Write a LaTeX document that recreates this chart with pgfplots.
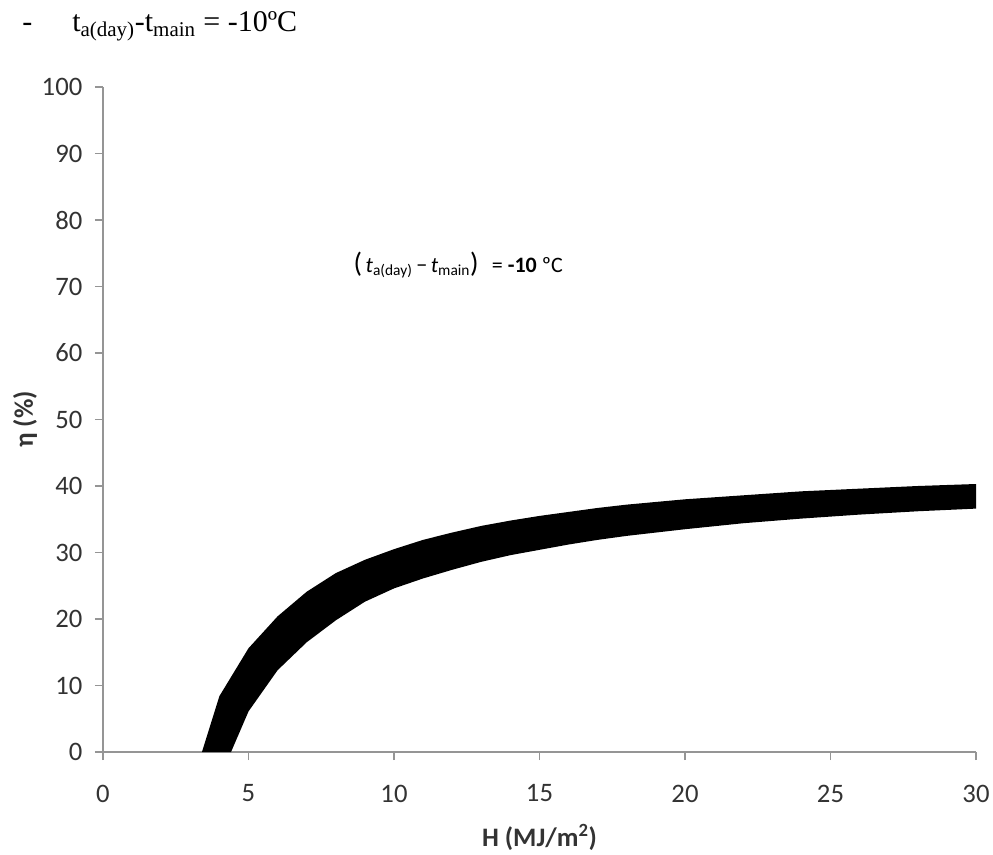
\documentclass[border=0pt]{standalone}
\usepackage{pgfplots}
\pgfplotsset{compat=1.18}
\usepgfplotslibrary{fillbetween}
\usepackage{fontspec}
\setmainfont{Carlito}
\newfontfamily\timesfont{Liberation Serif}
\definecolor{axgray}{HTML}{959595}
\definecolor{txtgray}{HTML}{333333}
\pgfplotstableread{
x y
3.4 0
4 8.4
5 15.6
6 20.4
7 24.1
8 26.9
9 28.9
10 30.5
11 31.9
12 33.0
13 34.0
14 34.8
15 35.5
16 36.1
17 36.7
18 37.2
19 37.6
20 38.0
22 38.6
24 39.2
26 39.6
28 40.0
30 40.3
}\uppertab
\pgfplotstableread{
x y
4.4 0
5 6.1
6 12.3
7 16.5
8 19.8
9 22.6
10 24.6
11 26.1
12 27.4
13 28.6
14 29.6
15 30.4
16 31.2
17 31.9
18 32.5
19 33.0
20 33.5
22 34.4
24 35.1
26 35.7
28 36.2
30 36.6
}\lowertab
\begin{document}
\begin{tikzpicture}
\begin{axis}[
  at={(0pt,0pt)}, anchor=origin,
  scale only axis,
  width=654.75pt, height=498.75pt,
  xmin=0, xmax=30, ymin=0, ymax=100,
  xtick={0,5,...,30}, ytick={0,10,...,100},
  axis x line=bottom, axis y line=left,
  axis line style={axgray, line width=0.9pt, -},
  tick style={axgray, line width=0.9pt},
  major tick length=6pt,
  tick align=outside,
  ticklabel style={font=\fontsize{20}{22}\selectfont, text=txtgray},
  /pgf/number format/assume math mode=true,
  xticklabel style={yshift=-15pt},
  yticklabel style={xshift=-6pt},
  clip=false,
  xlabel={\textbf{H (MJ/m\textsuperscript{2})}},
  ylabel={\textbf{η (\%)}},
  every axis x label/.style={at={(axis description cs:0.5,-0.1278)}, anchor=center,
     font=\fontsize{20}{22}\selectfont, text=txtgray},
  every axis y label/.style={at={(axis description cs:-0.0893,0.5)}, anchor=center, rotate=90,
     font=\fontsize{20}{22}\selectfont, text=txtgray},
]
\addplot[name path=U, draw=none] table {\uppertab};
\addplot[name path=L, draw=none] table {\lowertab};
\addplot[black] fill between[of=U and L];
\node[anchor=west, inner sep=0pt, font=\fontsize{16.5}{18}\selectfont] at (axis cs:8.6,73.2)
  {{\fontsize{21}{22}\selectfont(}\,{\itshape t}\textsubscript{a(day)}\,−\,{\itshape t}\textsubscript{main}{\fontsize{21}{22}\selectfont)}\hspace{0.6em}= \textbf{-10} ºC};
\end{axis}
\node[anchor=base west, inner sep=0pt, font=\timesfont\fontsize{22.5}{24}\selectfont] at (-60.75pt,540.2pt) {-};
\node[anchor=base west, inner sep=0pt, font=\timesfont\fontsize{22.5}{24}\selectfont] at (-23.25pt,540.2pt)
  {t\textsubscript{a(day)}-t\textsubscript{main} = -10ºC};
\pgfresetboundingbox
\path[use as bounding box] (-77.25pt,-76.5pt) rectangle (667.5pt,564pt);
\end{tikzpicture}
\end{document}
